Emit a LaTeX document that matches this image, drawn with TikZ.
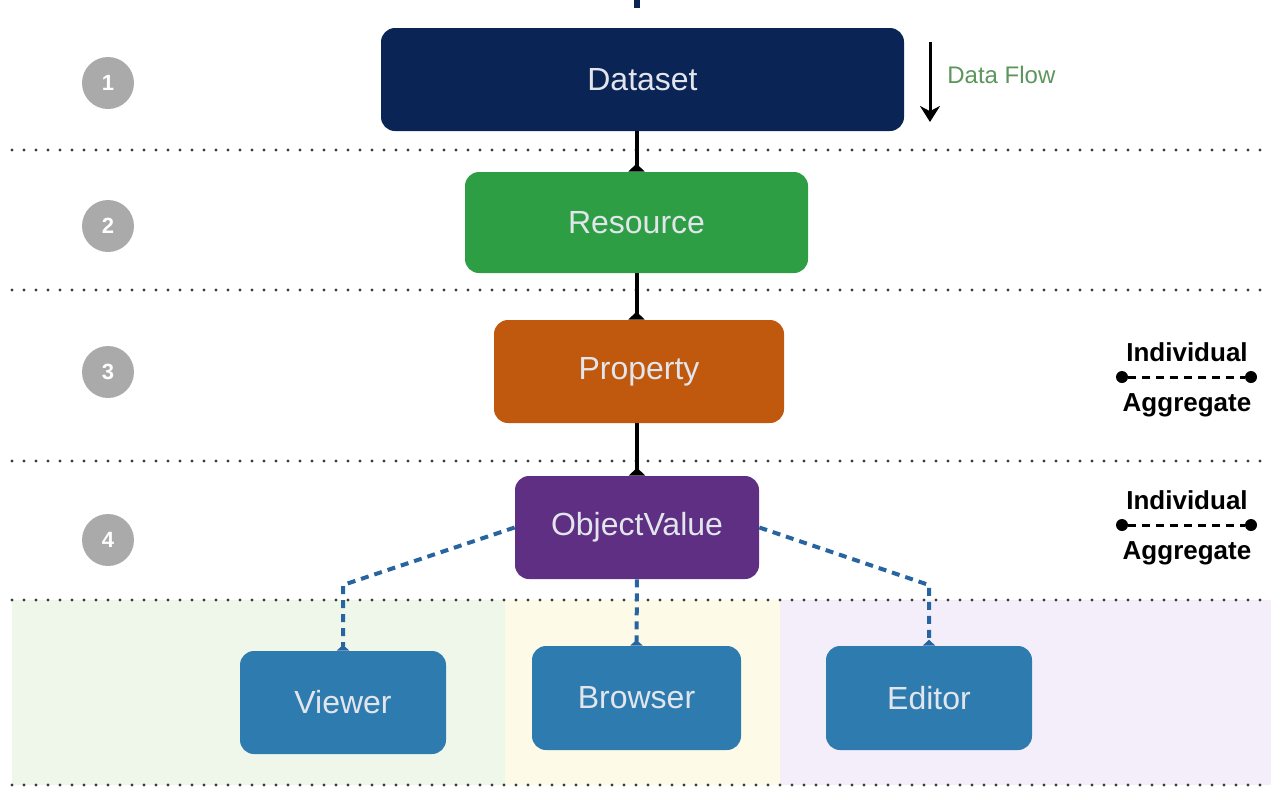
\documentclass[tikz,border=0pt]{standalone}
\usepackage{fontspec}
\setmainfont{Liberation Sans}
\usetikzlibrary{arrows.meta}

\definecolor{navy}{RGB}{10,36,86}
\definecolor{resgreen}{RGB}{46,158,68}
\definecolor{proporange}{RGB}{192,88,14}
\definecolor{objpurple}{RGB}{94,47,130}
\definecolor{uiblue}{RGB}{46,123,176}
\definecolor{linkblue}{RGB}{40,100,160}
\definecolor{boxtext}{RGB}{226,230,236}
\definecolor{stepgrey}{RGB}{170,170,170}
\definecolor{dotgrey}{RGB}{60,60,60}
\definecolor{flowgreen}{RGB}{92,150,92}
\definecolor{bggreen}{RGB}{239,246,234}
\definecolor{bgyellow}{RGB}{253,251,232}
\definecolor{bglilac}{RGB}{244,238,251}

\begin{document}
\begin{tikzpicture}[x=0.5pt, y=-0.5pt, >=Stealth,
    layerbox/.style={rounded corners=7pt, text=boxtext, inner sep=0pt,
        font=\fontsize{16}{19}\selectfont},
    stepmark/.style={circle, fill=stepgrey, text=white, minimum size=26pt,
        inner sep=0pt, font=\bfseries\fontsize{11}{13}\selectfont},
    levelline/.style={dotgrey, line width=1.6pt, line cap=round,
        dash pattern=on 0pt off 6pt},
    solidlink/.style={line width=2pt, -{Triangle[reversed,width=8pt,length=4pt]}},
    dashlink/.style={linkblue, line width=2pt, dash pattern=on 4pt off 3pt,
        -{Triangle[reversed,width=6pt,length=3pt]}},
    legendtext/.style={font=\bfseries\fontsize{13}{15}\selectfont}]

    \useasboundingbox (0,0) rectangle (1271,789);

    % cut off mark at the top
    \fill[navy] (634,0) rectangle (640,8);

    % ui backgrounds
    \fill[bggreen] (12,600) rectangle (505,785);
    \fill[bgyellow] (505,600) rectangle (780,785);
    \fill[bglilac] (780,600) rectangle (1271,785);

    % level separators
    \foreach \y in {150,290,461,600,785}
        \draw[levelline] (12,\y) -- (1271,\y);

    % level numbers
    \node[stepmark] (step1) at (108,83) {1};
    \node[stepmark] (step2) at (108,226) {2};
    \node[stepmark] (step3) at (108,372) {3};
    \node[stepmark] (step4) at (108,540) {4};

    % data levels
    \node[layerbox, fill=navy, minimum width=261.5pt, minimum height=51.5pt] (dataset) at (642.5,79.5) {Dataset};
    \node[layerbox, fill=resgreen, minimum width=171.5pt, minimum height=50.5pt] (resource) at (636.5,222.5) {Resource};
    \node[layerbox, fill=proporange, minimum width=145pt, minimum height=51.5pt] (property) at (639,371.5) {Property};
    \node[layerbox, fill=objpurple, minimum width=122pt, minimum height=51.5pt] (objvalue) at (637,527.5) {ObjectValue};

    % ui components
    \node[layerbox, fill=uiblue, minimum width=103pt, minimum height=51.5pt] (viewer) at (343,702.5) {Viewer};
    \node[layerbox, fill=uiblue, minimum width=104.5pt, minimum height=52pt] (browser) at (636.5,698) {Browser};
    \node[layerbox, fill=uiblue, minimum width=103pt, minimum height=52pt] (editor) at (929,698) {Editor};

    % data links
    \draw[solidlink] (resource.north |- dataset.south) -- (resource.north);
    \draw[solidlink] (resource.south) -- (resource.south |- property.north);
    \draw[solidlink] (property.south -| objvalue.north) -- (objvalue.north);

    % ui links
    \coordinate (bendleft) at (343,585);
    \coordinate (bendright) at (929,585);
    \draw[dashlink] (objvalue.west) -- (bendleft) -- (viewer.north);
    \draw[dashlink] (objvalue.south) -- (browser.north);
    \draw[dashlink] (objvalue.east) -- (bendright) -- (editor.north);

    % data flow hint
    \coordinate (flowtop) at (930,42);
    \coordinate (flowend) at (930,122);
    \draw[line width=1.5pt, -{Stealth[width=10pt,length=8pt]}] (flowtop) -- (flowend);
    \node[anchor=west, text=flowgreen, font=\fontsize{12}{14}\selectfont, inner sep=0pt] (flowlabel) at (947,75) {Data Flow};

    % legends
    \foreach \n/\y in {a/377,b/525} {
        \node[legendtext] (indiv\n) at (1187,\y-25) {Individual};
        \node[legendtext] (aggr\n) at (1187,\y+28) {Aggregate};
        \node[circle, fill=black, minimum size=6pt, inner sep=0pt] (lend\n) at (1122,\y) {};
        \node[circle, fill=black, minimum size=6pt, inner sep=0pt] (rend\n) at (1251,\y) {};
        \draw[line width=1.5pt, dash pattern=on 4pt off 3pt] (lend\n) -- (rend\n);
    }

\end{tikzpicture}
\end{document}
